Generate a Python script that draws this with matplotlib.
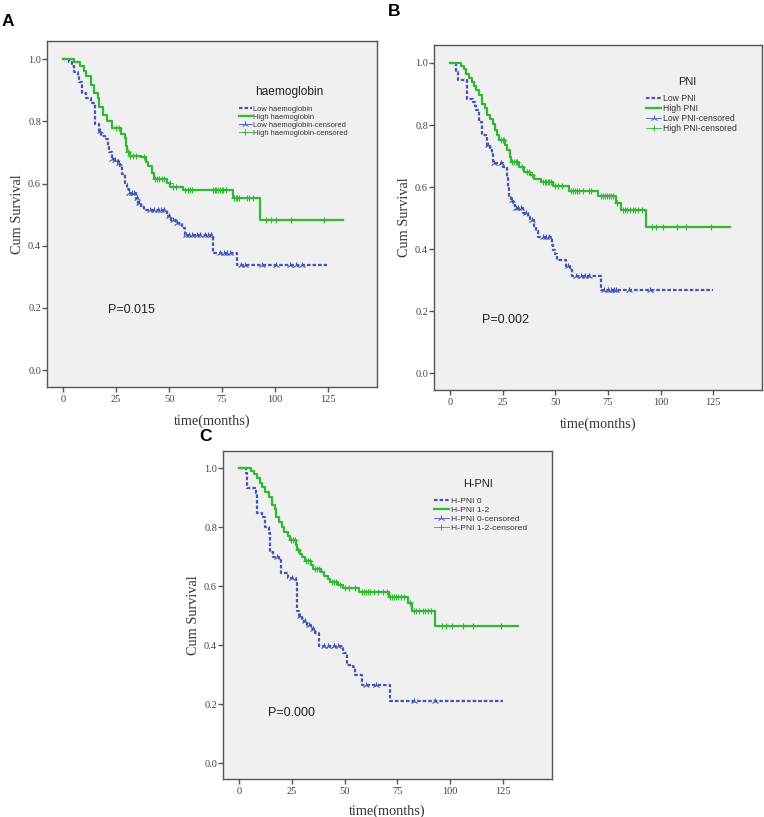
import numpy as np
import matplotlib
matplotlib.use("Agg")
import matplotlib.pyplot as plt
from matplotlib.lines import Line2D

# ---------------- data ----------------
# Panel A: haemoglobin
a_low_t = [3, 4, 5, 7, 7.5, 9, 11, 13, 15, 17, 18, 20, 21, 21.5, 23, 24, 26, 27, 28, 29, 30, 31,
           34.5, 35.5, 37, 38, 49, 51, 53.5, 56, 57.5, 71, 82]
a_low_s = [0.99, 0.978, 0.957, 0.946, 0.925, 0.89, 0.875, 0.86, 0.79, 0.769, 0.753, 0.742, 0.717, 0.70,
           0.68, 0.675, 0.667, 0.656, 0.629, 0.599, 0.583, 0.57, 0.554, 0.538, 0.524, 0.514, 0.497,
           0.484, 0.473, 0.457, 0.435, 0.376, 0.339]
a_low_cens = [17.5, 23, 24.5, 26.5, 31, 32.5, 33.5, 35, 36, 41, 43, 45, 46, 47.5, 50, 52, 54, 58, 59.5,
              61, 63, 64.5, 67, 68.5, 70, 74, 76, 77.5, 79, 84, 86, 94, 100.5, 107, 110, 113]
a_low_end = 124.5

a_high_t = [5, 8, 10, 11, 13, 14.5, 16.5, 17, 19, 20.5, 23, 27.5, 29, 29.5, 30, 31.5, 37, 39, 40, 42,
            43, 49, 50.5, 56.5, 80, 93]
a_high_s = [0.99, 0.978, 0.962, 0.945, 0.916, 0.89, 0.875, 0.847, 0.82, 0.80, 0.778, 0.76, 0.745, 0.72,
            0.70, 0.69, 0.685, 0.67, 0.656, 0.634, 0.615, 0.602, 0.59, 0.578, 0.552, 0.482]
a_high_cens = [25, 26.5, 30.7, 31.8, 33, 34.6, 38.4, 43.5, 44.5, 45.5, 46.5, 47.5, 50.3, 51.9, 53.5,
               57.5, 59, 60, 61, 70.8, 71.5, 72.3, 73, 74, 74.8, 75.5, 77, 80.5, 81.5, 82.3, 83,
               87, 88, 89.6, 96, 98, 100.6, 107.7, 123.4]
a_high_end = 132

# Panel B: PNI
b_low_t = [3, 4, 8, 11, 12, 12.5, 14, 15, 17, 17.5, 19, 20, 20.5, 25, 27.2, 27.6, 28, 29, 30, 31,
           34.5, 37, 38, 40, 41, 42, 48.5, 49, 50, 51, 55, 57, 58, 71.5]
b_low_s = [0.971, 0.944, 0.883, 0.875, 0.862, 0.848, 0.81, 0.768, 0.76, 0.736, 0.72, 0.71, 0.677,
           0.666, 0.628, 0.60, 0.57, 0.559, 0.543, 0.532, 0.516, 0.505, 0.495, 0.475, 0.457, 0.439,
           0.414, 0.398, 0.385, 0.366, 0.345, 0.334, 0.315, 0.268]
b_low_cens = [18, 21, 24, 29.5, 31.5, 32.5, 33.5, 36, 39, 44, 45.5, 47, 56, 60, 62, 64, 66, 73, 75,
              76.5, 78, 79, 85, 95]
b_low_end = 125

b_high_t = [5, 6.5, 7.5, 9, 10.5, 11.5, 12.5, 14, 15, 16.5, 17.5, 19, 20.5, 21.5, 22.5, 23.5, 26, 27,
            28.5, 29, 33, 35, 38, 40, 43, 49, 56.5, 70.5, 79, 81, 93]
b_high_s = [0.989, 0.98, 0.965, 0.953, 0.94, 0.925, 0.912, 0.897, 0.869, 0.855, 0.832, 0.82, 0.803,
            0.785, 0.768, 0.752, 0.736, 0.72, 0.698, 0.68, 0.666, 0.65, 0.639, 0.625, 0.615, 0.604,
            0.586, 0.57, 0.548, 0.525, 0.47]
b_high_cens = [24, 25, 25.8, 29.5, 30.5, 31.2, 32, 34, 36.5, 37.5, 39, 44, 45, 45.8, 46.5, 47.2, 48,
               50, 51.5, 53, 57.5, 58.5, 59.5, 60.5, 61.5, 63, 66, 67, 71.5, 72.5, 73.5, 74.5, 75.5,
               76.5, 77.5, 79.5, 82, 83, 84, 85.5, 87, 88, 89.5, 91, 96, 98, 101, 108, 112, 124]
b_high_end = 133

# Panel C: H-PNI
c_low_t = [3.5, 4, 8, 8.5, 11, 12.5, 14, 14.5, 16, 19, 20, 23, 27, 27.5, 28.5, 30, 32, 34, 36, 38,
           49, 51, 54, 55, 58, 71.5]
c_low_s = [0.985, 0.933, 0.915, 0.849, 0.835, 0.80, 0.78, 0.717, 0.70, 0.69, 0.646, 0.626, 0.609,
           0.514, 0.50, 0.48, 0.468, 0.454, 0.44, 0.397, 0.372, 0.333, 0.325, 0.299, 0.265, 0.212]
c_low_cens = [18, 25, 29, 31, 33, 35, 40, 42, 45, 47, 60, 65, 83, 93]
c_low_end = 125

c_high_t = [5.5, 7, 8.5, 10, 11, 12.5, 14, 15.5, 17, 17.5, 19, 20.5, 21.5, 23, 24, 27, 27.5, 29, 30,
            31, 34, 35, 39, 40, 42, 43, 47, 49, 57, 71, 80, 82, 93]
c_high_s = [0.991, 0.98, 0.965, 0.95, 0.935, 0.92, 0.903, 0.875, 0.86, 0.835, 0.818, 0.801, 0.785,
            0.77, 0.756, 0.739, 0.722, 0.71, 0.70, 0.686, 0.67, 0.657, 0.649, 0.635, 0.624, 0.615,
            0.604, 0.595, 0.579, 0.564, 0.542, 0.517, 0.465]
c_high_cens = [24.5, 25.5, 26.5, 28, 31.5, 32.5, 33.5, 36, 37, 38, 44, 45, 46, 48, 50, 52, 55, 58,
               59, 60, 61, 62, 64, 66, 68, 70, 71.5, 72.5, 73.5, 74.5, 75.5, 76.5, 78, 81, 83, 84,
               85, 87, 88, 89.5, 91, 96, 98, 101, 106, 111, 124]
c_high_end = 132

x_ticks = [0, 25, 50, 75, 100, 125]
y_ticks = [0.0, 0.2, 0.4, 0.6, 0.8, 1.0]

# ---------------- style ----------------
BLUE = "#3f55b8"
GREEN = "#33b833"
BG = "#f0f0f0"
FRAME = "#555555"
SERIF = ["Liberation Serif", "DejaVu Serif"]
SANS = ["Liberation Sans", "DejaVu Sans"]

fig = plt.figure(figsize=(7.64, 8.17), dpi=100)


def surv_at(t, s, c):
    idx = np.searchsorted(np.asarray(t), c, side="right") - 1
    return 1.0 if idx < 0 else s[idx]


def panel(rect, low, high, legend_title, title_xy, names, leg_anchor, leg_fs, leg_title_fs, leg_gap,
          ptxt, pxy, letter, letter_xy):
    ax = fig.add_axes(rect)
    ax.set_facecolor(BG)
    for sp in ["top", "right", "left", "bottom"]:
        ax.spines[sp].set_color(FRAME)
        ax.spines[sp].set_linewidth(1.0)

    for (t, s, cens, end), color, ls, mk, lw in [
        (low, BLUE, (0, (1.6, 0.9)), "2", 1.6),
        (high, GREEN, "-", "+", 1.6),
    ]:
        xs = [0] + list(t) + [end]
        ys = [1.0] + list(s) + [s[-1]]
        ax.step(xs, ys, where="post", color=color, lw=lw, linestyle=ls, zorder=3)
        cy = [surv_at(t, s, c) for c in cens]
        ax.plot(cens, cy, linestyle="none", marker=mk, color=color, ms=5, mew=0.8, zorder=4)

    ax.set_xlim(-7.6, 148.2)
    ax.set_ylim(-0.054, 1.058)
    ax.set_xticks(x_ticks)
    ax.set_yticks(y_ticks)
    ax.set_yticklabels([f"{v:.1f}" for v in y_ticks])
    ax.tick_params(axis="both", direction="out", length=3.5, width=1.0, color=FRAME,
                   labelsize=7.5, labelcolor="#444444")
    ax.tick_params(axis="y", pad=0.8)
    ax.tick_params(axis="x", pad=2.5)
    for lab in ax.get_xticklabels() + ax.get_yticklabels():
        lab.set_fontfamily(SERIF)
    ax.set_xlabel("time(months)", fontsize=10.3, family=SERIF, color="#333333")
    ax.set_ylabel("Cum Survival", fontsize=10.3, family=SERIF, color="#333333")
    ax.xaxis.set_label_coords(0.5, -0.079)
    ax.yaxis.set_label_coords(-0.070, 0.5)

    handles = [
        Line2D([], [], color=BLUE, lw=1.6, linestyle=(0, (1.6, 0.9))),
        Line2D([], [], color=GREEN, lw=1.6),
        Line2D([], [], color=BLUE, lw=0.6, marker="2", ms=5, mew=0.7),
        Line2D([], [], color=GREEN, lw=0.6, marker="+", ms=5, mew=0.7),
    ]
    leg = ax.legend(handles, names, loc="upper left", bbox_to_anchor=leg_anchor,
                    frameon=False, prop={"family": SANS, "size": leg_fs},
                    handlelength=1.7, handletextpad=0.25, labelspacing=leg_gap, borderpad=0.0)
    for txt in leg.get_texts():
        txt.set_color("#333333")
    ax.text(title_xy[0], title_xy[1], legend_title, transform=ax.transAxes, fontsize=leg_title_fs,
            family=SANS, color="#222222", ha="center", va="center")

    ax.text(pxy[0], pxy[1], ptxt, transform=ax.transAxes, fontsize=9, family=SANS,
            color="#222222", ha="left", va="center")
    fig.text(letter_xy[0], letter_xy[1], letter, fontsize=12.5, fontweight="bold", family=SANS,
             ha="center", va="center")
    return ax


panel([47 / 764, 1 - 387 / 817, 330 / 764, 346 / 817],
      (a_low_t, a_low_s, a_low_cens, a_low_end), (a_high_t, a_high_s, a_high_cens, a_high_end),
      "haemoglobin", (0.733, 0.853),
      ["Low haemoglobin", "High haemoglobin", "Low haemoglobin-censored", "High haemoglobin-censored"],
      (0.570, 0.825), 5.4, 8.6, 0.10, "P=0.015", (0.185, 0.223), "A", (8 / 764, 1 - 22 / 817))

panel([434 / 764, 1 - 390 / 817, 328 / 764, 345 / 817],
      (b_low_t, b_low_s, b_low_cens, b_low_end), (b_high_t, b_high_s, b_high_cens, b_high_end),
      "PNI", (0.771, 0.893),
      ["Low PNI", "High PNI", "Low PNI-censored", "High PNI-censored"],
      (0.634, 0.870), 6.2, 7.9, 0.12, "P=0.002", (0.146, 0.203), "B", (394 / 764, 1 - 11 / 817))

panel([223 / 764, 1 - 779 / 817, 329 / 764, 328 / 817],
      (c_low_t, c_low_s, c_low_cens, c_low_end), (c_high_t, c_high_s, c_high_cens, c_high_end),
      "H-PNI", (0.775, 0.899),
      ["H-PNI 0", "H-PNI 1-2", "H-PNI 0-censored", "H-PNI 1-2-censored"],
      (0.629, 0.873), 6.1, 7.9, 0.12, "P=0.000", (0.137, 0.201), "C", (206 / 764, 1 - 437 / 817))

fig.savefig("out.png", dpi=100)
